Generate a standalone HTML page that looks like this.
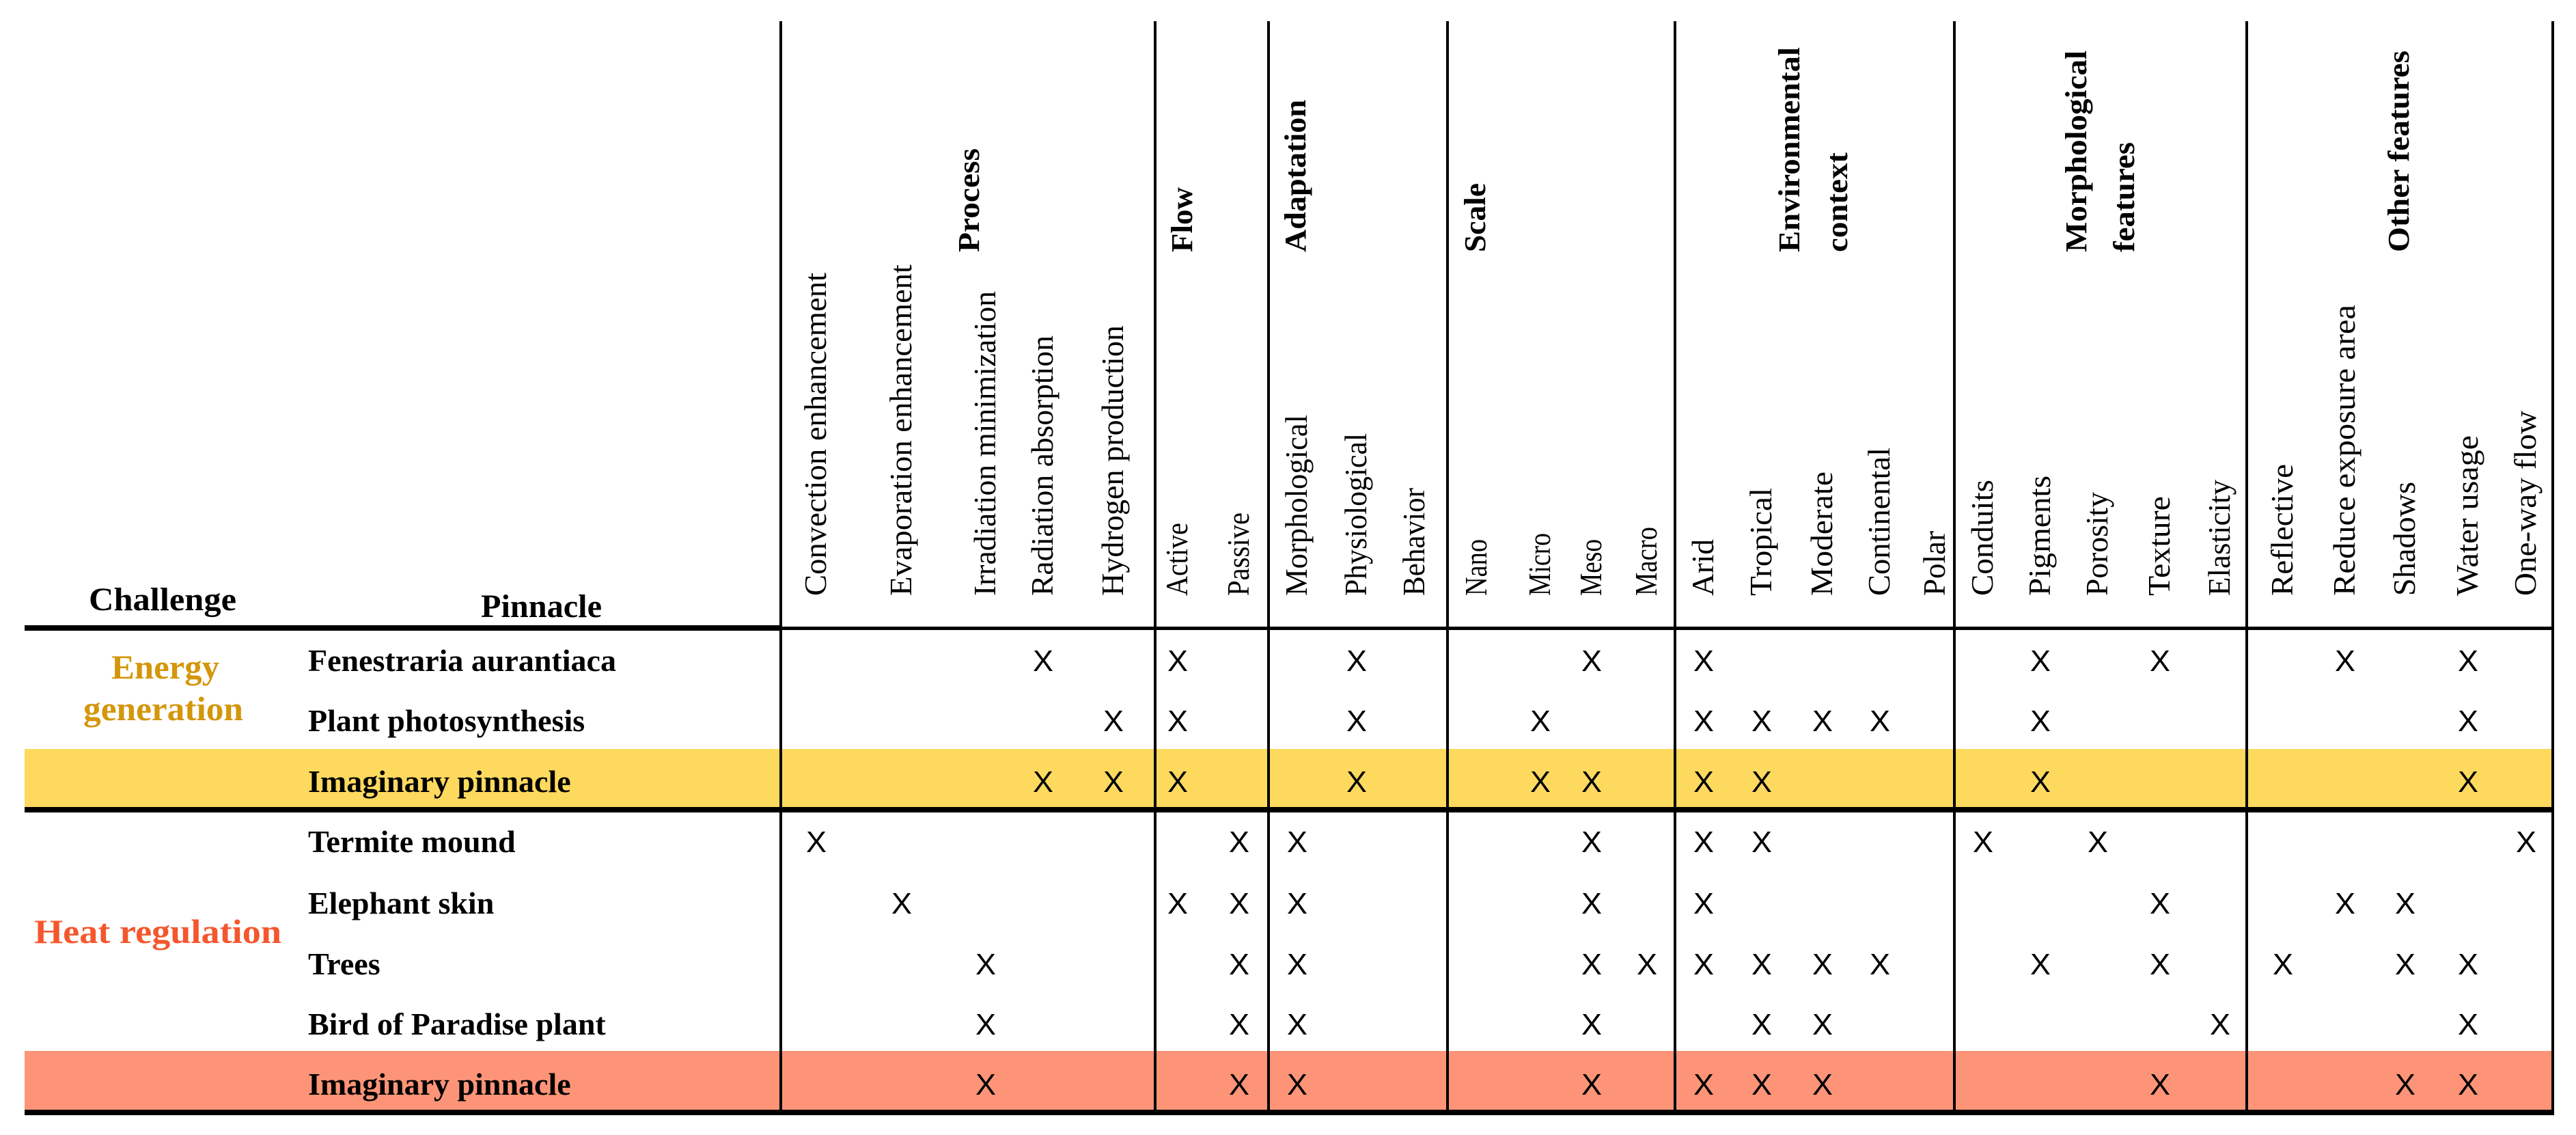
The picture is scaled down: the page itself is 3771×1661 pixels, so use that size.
<!DOCTYPE html>
<html><head><meta charset="utf-8"><style>
html,body{margin:0;padding:0;background:#fff;}
svg{display:block;}
</style></head><body>
<svg id="tbl" width="3771" height="1661" viewBox="0 0 3771 1661" xmlns="http://www.w3.org/2000/svg">
<rect x="0" y="0" width="3771" height="1661" fill="#fff"/>
<g id="bands"></g>
<g id="lines"></g>
<g id="heads"></g>
<g id="rows"></g>
<g id="marks"></g>
</svg>
<script>
const columns = ["Convection enhancement","Evaporation enhancement","Irradiation minimization","Radiation absorption","Hydrogen production","Active","Passive","Morphological","Physiological","Behavior","Nano","Micro","Meso","Macro","Arid","Tropical","Moderate","Continental","Polar","Conduits","Pigments","Porosity","Texture","Elasticity","Reflective","Reduce exposure area","Shadows","Water usage","One-way flow"];
const groups = [["Process"],["Flow"],["Adaptation"],["Scale"],["Environmental","context"],["Morphological","features"],["Other features"]];
const groupSizes = [5,2,3,4,5,5,5];
const rowNames = ["Fenestraria aurantiaca","Plant photosynthesis","Imaginary pinnacle","Termite mound","Elephant skin","Trees","Bird of Paradise plant","Imaginary pinnacle"];
const marks = [
 [3,5,8,12,14,20,22,25,27],
 [4,5,8,11,14,15,16,17,20,27],
 [3,4,5,8,11,12,14,15,20,27],
 [0,6,7,12,14,15,19,21,28],
 [1,5,6,7,12,14,22,25,26],
 [2,6,7,12,13,14,15,16,17,20,22,24,26,27],
 [2,6,7,12,15,16,23,27],
 [2,6,7,12,14,15,16,22,26,27]
];
const NS="http://www.w3.org/2000/svg";
const colX=[1195,1320,1443,1527,1630,1724,1814,1899,1986,2071,2162,2255,2330,2411,2494,2579,2668,2752,2833,2903,2987,3071,3162,3250,3342,3433,3521,3613,3698];
const labLen=[473,485,446,381,396,107,122,265,238,158,83,92,83,101,83,158,182,217,95,170,176,152,146,170,193,426,167,235,271];
const divX=[1143,1691,1857,2119,2452,2861,3289,3737];
const grpX=[[1417],[1729],[1895],[2158],[2618,2688],[3038,3108],[3510]];
const grpLen=[[152],[95],[223],[101],[300,146],[295,161],[295]];
const rowY=[966,1054,1143,1231,1321,1410,1498,1586];
function el(tag,attrs,parent,text){const e=document.createElementNS(NS,tag);for(const k in attrs)e.setAttribute(k,attrs[k]);if(text!==undefined)e.textContent=text;parent.appendChild(e);return e;}
const bands=document.getElementById('bands'),lines=document.getElementById('lines'),heads=document.getElementById('heads'),rows=document.getElementById('rows'),mk=document.getElementById('marks');
let b=el('rect',{x:36,y:1096,width:3701,height:86,fill:'#FDD95E'},bands);


b=el('rect',{x:36,y:1538,width:3701,height:87,fill:'#FD9477'},bands);


divX.forEach((x,i)=>{const l=el('rect',{x:x-2,y:31,width:4,height:1598,fill:'#000'},lines);

});
let hl=el('rect',{x:36,y:915,width:1107,height:8,fill:'#000'},lines);


hl=el('rect',{x:1143,y:917,width:2596,height:5,fill:'#000'},lines);


hl=el('rect',{x:36,y:1181,width:3703,height:8,fill:'#000'},lines);


hl=el('rect',{x:36,y:1624,width:3703,height:8,fill:'#000'},lines);


columns.forEach((c,i)=>{const x=colX[i]-2+16;
const t=el('text',{x:0,y:0,transform:`translate(${x},872) rotate(-90)`,'font-family':'Liberation Serif, serif','font-size':46,textLength:labLen[i],lengthAdjust:'spacingAndGlyphs',fill:'#000'},heads,c);

});
groups.forEach((g,i)=>{g.forEach((line,j)=>{const x=grpX[i][j]+16;
const t=el('text',{x:0,y:0,transform:`translate(${x},369) rotate(-90)`,'font-family':'Liberation Serif, serif','font-size':44,'font-weight':'bold',textLength:grpLen[i][j],lengthAdjust:'spacingAndGlyphs',fill:'#000'},heads,line);

});});
let t=el('text',{x:130,y:893,'font-family':'Liberation Serif, serif','font-size':48,'font-weight':'bold',textLength:216,lengthAdjust:'spacingAndGlyphs'},heads,'Challenge');


t=el('text',{x:704,y:903,'font-family':'Liberation Serif, serif','font-size':48,'font-weight':'bold',textLength:177,lengthAdjust:'spacingAndGlyphs'},heads,'Pinnacle');


t=el('text',{x:163,y:993,'font-family':'Liberation Serif, serif','font-size':50,'font-weight':'bold',fill:'#D4960A',textLength:158,lengthAdjust:'spacingAndGlyphs'},rows,'Energy');


t=el('text',{x:122,y:1054,'font-family':'Liberation Serif, serif','font-size':50,'font-weight':'bold',fill:'#D4960A',textLength:234,lengthAdjust:'spacingAndGlyphs'},rows,'generation');


t=el('text',{x:50,y:1380,'font-family':'Liberation Serif, serif','font-size':50,'font-weight':'bold',fill:'#F4572D',textLength:362,lengthAdjust:'spacingAndGlyphs'},rows,'Heat regulation');


rowNames.forEach((n,i)=>{const r=el('text',{x:451,y:rowY[i]+16,'font-family':'Liberation Serif, serif','font-size':46,'font-weight':'bold',fill:'#000'},rows,n);

});
marks.forEach((arr,ri)=>{arr.forEach(ci=>{const m=el('text',{x:colX[ci],y:rowY[ri]+16,'text-anchor':'middle','font-family':'Liberation Sans, sans-serif','font-size':44,textLength:30,lengthAdjust:'spacingAndGlyphs',fill:'#000'},mk,'X');

});});
</script>
</body></html>
